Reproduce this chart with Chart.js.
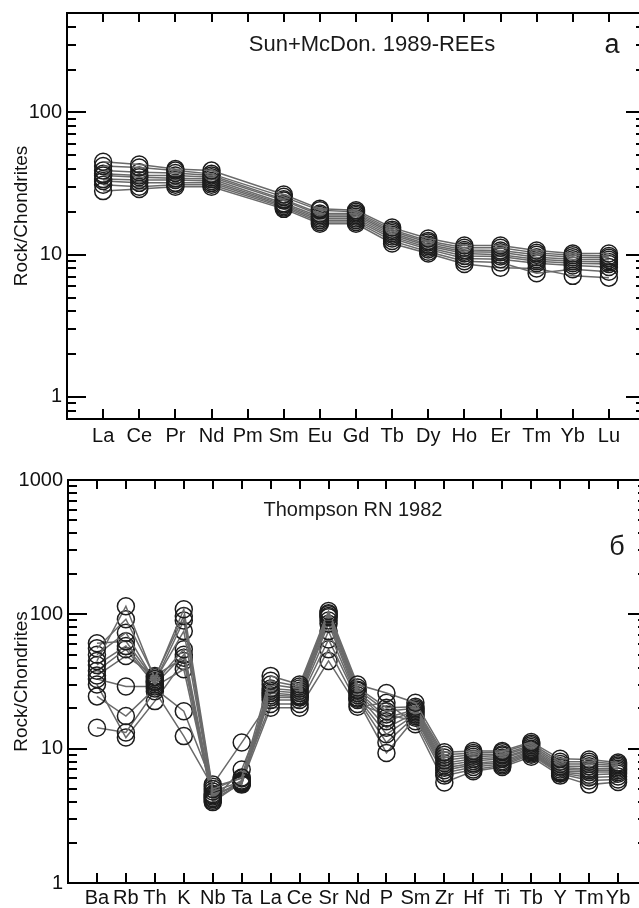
<!DOCTYPE html>
<html>
<head>
<meta charset="utf-8">
<script src="https://cdn.jsdelivr.net/npm/chart.js@4.4.1/dist/chart.umd.min.js"></script>
<style>
    html, body { margin: 0; padding: 0; background: #fff; overflow: hidden; width: 639px; height: 908px; }
    canvas { position: absolute; left: 0; }
    #reeChart { top: 0; }
    #spiderChart { top: 460px; }
</style>
</head>
<body>
<canvas id="reeChart" width="670" height="455"></canvas>
<canvas id="spiderChart" width="670" height="448"></canvas>
<script>
// Panel a: REE, chondrite normalised (Sun+McDon. 1989)
const reeElements = ['La', 'Ce', 'Pr', 'Nd', 'Pm', 'Sm', 'Eu', 'Gd', 'Tb', 'Dy', 'Ho', 'Er', 'Tm', 'Yb', 'Lu'];
const reeSample1 = [45, 43, 40, 39, null, 26.5, 21, 20.5, 15.5, 13, 11.6, 11.6, 10.7, 10.2, 10.2];
const reeSample2 = [42, 41, 39, 37, null, 25.5, 20.5, 20, 15, 12.5, 11.2, 11.2, 10.3, 9.9, 9.8];
const reeSample3 = [39, 38, 37.5, 36, null, 24.5, 19.5, 19.5, 14.6, 12.2, 10.8, 10.7, 10, 9.6, 9.5];
const reeSample4 = [37, 36, 36, 35, null, 24, 19, 19, 14.2, 11.8, 10.5, 10.4, 9.6, 9.3, 9.2];
const reeSample5 = [36, 35, 34.5, 34, null, 23, 18.5, 18.5, 13.8, 11.5, 10.2, 10, 9.3, 9, 8.9];
const reeSample6 = [34, 33.5, 33.5, 33, null, 22.5, 18, 18, 13.4, 11.2, 9.8, 9.7, 9, 8.7, 8.6];
const reeSample7 = [33, 32, 32, 32, null, 22, 17.5, 17.5, 13, 10.9, 9.4, 9.3, 8.7, 8.4, 8.2];
const reeSample8 = [31, 30, 31, 31, null, 21.5, 17, 17, 12.5, 10.5, 9, 8.8, 7.4, 7.9, 7.6];
const reeSample9 = [28, 29, 30, 30, null, 21, 16.5, 16.5, 12, 10.2, 8.6, 8.1, 8, 7.1, 6.9];
const reeYLabels = [1, 10, 100];
const reeYMin = 0.7;
const reeYMax = 500;

// Panel б: spider diagram (Thompson RN 1982)
const spiderElements = ['Ba', 'Rb', 'Th', 'K', 'Nb', 'Ta', 'La', 'Ce', 'Sr', 'Nd', 'P', 'Sm', 'Zr', 'Hf', 'Ti', 'Tb', 'Y', 'Tm', 'Yb'];
const spiderSample1 = [45, 115, 33, 109, 5.0, 6.1, 34.8, 30, 106, 30, 26, 22, 9.4, 9.6, 9.6, 11.2, 8.4, 8.3, 7.9];
const spiderSample2 = [56, 92, 34, 97, 4.8, 5.7, 32, 29, 102, 28.5, 20.2, 20.5, 9.0, 9.3, 9.4, 10.9, 8.0, 8.0, 7.7];
const spiderSample3 = [50, 73, 31.5, 90, 4.6, 5.4, 30, 28, 100, 27.5, 19, 20, 8.6, 9.0, 9.1, 10.6, 7.7, 7.7, 7.5];
const spiderSample4 = [61, 63, 32, 75, 4.5, 5.5, 28, 27, 97, 27, 17, 19.5, 8.2, 8.7, 8.9, 10.3, 7.4, 7.4, 7.3];
const spiderSample5 = [42, 58, 31, 55, 4.4, 5.6, 27, 26, 95, 26, 16, 19, 7.8, 8.4, 8.6, 10, 7.2, 7.1, 7.1];
const spiderSample6 = [38, 55, 30, 50, 4.3, 5.8, 26, 25, 90, 25, 14.3, 18.5, 7.5, 8.1, 8.4, 9.8, 7.0, 6.9, 6.9];
const spiderSample7 = [35, 49, 34.8, 47.5, 4.2, 5.5, 25, 24.5, 85, 24, 12.8, 18, 7.2, 7.8, 8.1, 9.6, 6.8, 6.7, 6.7];
const spiderSample8 = [33, 29, 29, 39, 4.1, 7.0, 24, 24, 75, 23.5, 11.1, 17.5, 6.9, 7.6, 7.9, 9.4, 6.7, 6.4, 6.5];
const spiderSample9 = [24.5, 17.5, 28, 19, 5.4, 11.1, 23, 23, 65, 23, 9.3, 17, 6.6, 7.3, 7.7, 9.2, 6.6, 6.1, 6.2];
const spiderSample10 = [14.3, 13.2, 26.8, 12.4, 5.2, 6.0, 21.5, 21.5, 55, 21.5, 18, 16, 6.3, 7.0, 7.5, 9.0, 6.5, 5.8, 5.9];
const spiderSample11 = [30, 12.1, 22.6, 45, 4.0, 5.6, 20.2, 20.2, 45, 20.5, 22, 15.2, 5.6, 6.8, 7.3, 8.7, 6.3, 5.4, 5.65];
const spiderYLabels = [1, 10, 100, 1000];
const spiderYMin = 1;
const spiderYMax = 1000;

const FONT = '"Liberation Sans", Arial, Helvetica, sans-serif';

// log ticks 1..9 per decade between min and max
function logTicks(min, max) {
    const out = [];
    for (let e = Math.floor(Math.log10(min)); e <= Math.ceil(Math.log10(max)); e++) {
        for (let m = 1; m <= 9; m++) {
            const v = parseFloat((m * Math.pow(10, e)).toPrecision(6));
            if (v >= min - 1e-9 && v <= max + 1e-9) out.push(v);
        }
    }
    return out;
}

// frame, inward ticks and in-plot texts
const framePlugin = {
    id: 'frame',
    afterDraw(chart, args, o) {
        const { ctx, chartArea: a } = chart;
        const x = chart.scales.x, y = chart.scales.y;
        ctx.save();
        ctx.strokeStyle = '#000';
        ctx.lineWidth = 2;
        ctx.strokeRect(a.left, a.top, a.right - a.left, a.bottom - a.top);
        ctx.beginPath();
        x.ticks.forEach(t => {
            const px = Math.round(x.getPixelForValue(t.value));
            ctx.moveTo(px, a.bottom); ctx.lineTo(px, a.bottom - 10);
            ctx.moveTo(px, a.top); ctx.lineTo(px, a.top + 9);
        });
        y.ticks.forEach(t => {
            const py = Math.round(y.getPixelForValue(t.value));
            const len = o.majors.includes(t.value) ? 19 : 9;
            ctx.moveTo(a.left, py); ctx.lineTo(a.left + len, py);
            ctx.moveTo(a.right, py); ctx.lineTo(a.right - len, py);
        });
        ctx.stroke();
        ctx.fillStyle = '#1a1a1a';
        ctx.textAlign = 'center';
        ctx.textBaseline = 'middle';
        ctx.font = o.titleSize + 'px ' + FONT;
        ctx.fillText(o.title, o.titlePos[0], o.titlePos[1]);
        ctx.font = '27px ' + FONT;
        ctx.fillText(o.letter, o.letterPos[0], o.letterPos[1]);
        ctx.restore();
    }
};

function makeChart(id, cfg) {
    const ctx = document.getElementById(id).getContext('2d');
    const yTicks = logTicks(cfg.yMin, cfg.yMax);
    return new Chart(ctx, {
        type: 'line',
        data: {
            datasets: cfg.samples.map(s => ({
                data: s.map((v, i) => ({ x: i, y: v })),
                borderColor: '#6a6a6a',
                borderWidth: 1.5,
                pointRadius: 8.5,
                pointBorderWidth: 1.5,
                pointBorderColor: '#1c1c1c',
                pointBackgroundColor: 'rgba(0,0,0,0)',
                spanGaps: true,
                tension: 0,
                fill: false
            }))
        },
        options: {
            responsive: false,
            animation: false,
            devicePixelRatio: 1,
            layout: { padding: cfg.padding },
            plugins: {
                legend: { display: false },
                tooltip: { enabled: false },
                frame: {
                    majors: cfg.yLabels,
                    title: cfg.title, titlePos: cfg.titlePos, titleSize: cfg.titleSize,
                    letter: cfg.letter, letterPos: cfg.letterPos
                }
            },
            scales: {
                x: {
                    type: 'linear',
                    min: -1,
                    max: cfg.categories.length,
                    grid: { display: false, drawTicks: false },
                    border: { display: false },
                    afterBuildTicks: s => { s.ticks = cfg.categories.map((c, i) => ({ value: i })); },
                    afterFit: s => {
                        s.height = cfg.xHeight;
                        s.paddingLeft = 0; s.paddingRight = 0;
                    },
                    ticks: {
                        autoSkip: false,
                        maxRotation: 0,
                        padding: cfg.xPad,
                        color: '#111',
                        font: { family: FONT, size: 20 },
                        callback: v => cfg.categories[v] ?? ''
                    }
                },
                y: {
                    type: 'logarithmic',
                    min: cfg.yMin,
                    max: cfg.yMax,
                    grid: { display: false, drawTicks: false },
                    border: { display: false },
                    afterBuildTicks: s => { s.ticks = yTicks.map(v => ({ value: v })); },
                    afterFit: s => {
                        s.width = cfg.yWidth;
                        s.paddingTop = 0; s.paddingBottom = 0;
                    },
                    ticks: {
                        autoSkip: false,
                        padding: 5,
                        color: '#111',
                        font: { family: FONT, size: 20 },
                        callback: v => cfg.yLabels.includes(v) ? String(v) : ''
                    },
                    title: {
                        display: true,
                        text: 'Rock/Chondrites',
                        color: '#111',
                        font: { family: FONT, size: 19 },
                        padding: { top: 10, bottom: 0 }
                    }
                }
            }
        },
        plugins: [framePlugin]
    });
}

makeChart('reeChart', {
    categories: reeElements,
    samples: [reeSample1, reeSample2, reeSample3, reeSample4, reeSample5, reeSample6, reeSample7, reeSample8, reeSample9],
    yMin: reeYMin, yMax: reeYMax, yLabels: reeYLabels,
    padding: { top: 13, right: 25, bottom: 0, left: 0 },
    yWidth: 67, xHeight: 36, xPad: 5,
    title: 'Sun+McDon. 1989-REEs', titlePos: [372, 45], titleSize: 22,
    letter: 'а', letterPos: [612, 46]
});

makeChart('spiderChart', {
    categories: spiderElements,
    samples: [spiderSample1, spiderSample2, spiderSample3, spiderSample4, spiderSample5, spiderSample6,
              spiderSample7, spiderSample8, spiderSample9, spiderSample10, spiderSample11],
    yMin: spiderYMin, yMax: spiderYMax, yLabels: spiderYLabels,
    padding: { top: 20, right: 23, bottom: 0, left: 0 },
    yWidth: 68, xHeight: 25, xPad: 3,
    title: 'Thompson RN 1982', titlePos: [353, 50], titleSize: 20,
    letter: 'б', letterPos: [617, 88]
});
</script>
</body>
</html>
